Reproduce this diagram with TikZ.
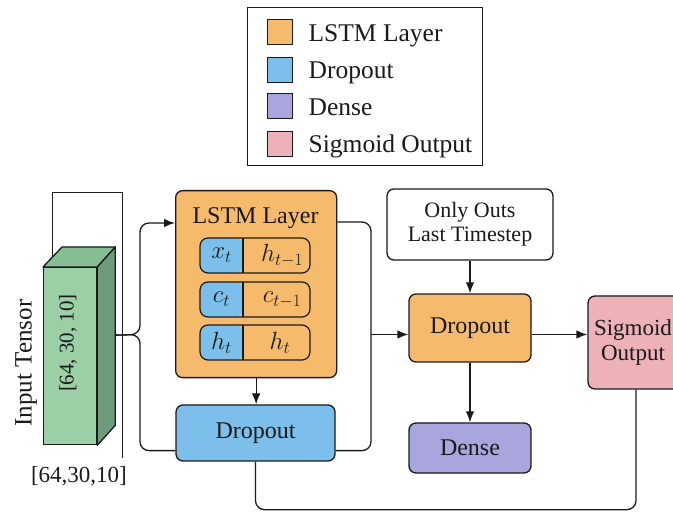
\documentclass[tikz,border=0pt]{standalone}
\usepackage{fontspec}
\setmainfont{Liberation Serif}
\usetikzlibrary{arrows.meta,calc}
\definecolor{lstmor}{HTML}{F6BA6C}
\definecolor{dropbl}{HTML}{7BBFEA}
\definecolor{densepu}{HTML}{A9A6DD}
\definecolor{sigpk}{HTML}{EDB2B8}
\definecolor{tgfront}{HTML}{9BCFA6}
\definecolor{tgside}{HTML}{6E9C7A}
\definecolor{tgtop}{HTML}{86BE93}
\definecolor{ink}{HTML}{1A1A1A}
\begin{document}
\begin{tikzpicture}[x=1pt,y=-1pt,
  line width=1.3pt, draw=ink, text=ink,
  box/.style={draw=ink, rounded corners=7pt, line width=1.3pt, align=center, inner sep=0pt},
  lbl/.style={font=\fontsize{24}{25}\selectfont},
  legtxt/.style={font=\fontsize{25.5}{27}\selectfont, inner sep=0pt, anchor=base west},
  legsq/.style={draw=ink, line width=0.9pt, minimum size=25pt, inner sep=0pt},
  rowbox/.style={draw=ink, rounded corners=8pt, line width=1.2pt, fill=lstmor,
    minimum width=110pt, minimum height=35pt, inner sep=0pt,
    path picture={\fill[dropbl] (path picture bounding box.north west) rectangle ([xshift=43pt]path picture bounding box.south west);
      \draw[ink, line width=1.2pt] ([xshift=43pt]path picture bounding box.north west) -- ([xshift=43pt]path picture bounding box.south west);}},
  mth/.style={font=\fontsize{25}{28}\selectfont, inner sep=0pt},
  arr/.style={-{Latex[length=11pt,width=8.5pt]}},
  conn/.style={line width=1.3pt, rounded corners=9pt},
]
\useasboundingbox (0,0) rectangle (673,513);
\clip (0,0) rectangle (673,513);

% legend
\node[draw=ink, line width=1pt, minimum width=235pt, minimum height=158pt, anchor=north west, inner sep=0pt] (legend) at (247,7) {};
\node[legsq, fill=lstmor] (sq1) at (279.5,32) {};
\node[legsq, fill=dropbl] (sq2) at (279.5,69.5) {};
\node[legsq, fill=densepu] (sq3) at (279.5,106) {};
\node[legsq, fill=sigpk] (sq4) at (279.5,144) {};
\node[legtxt] (lt1) at (308,42) {LSTM Layer};
\node[legtxt] (lt2) at (308,79) {Dropout};
\node[legtxt] (lt3) at (308,116) {Dense};
\node[legtxt] (lt4) at (308,153) {Sigmoid Output};

% tensor decoration lines
\coordinate (fa) at (52,262);
\coordinate (fb) at (52,192);
\coordinate (fc) at (122,192);
\coordinate (fd) at (122,458);
\draw[line width=0.9pt] (fa) -- (fb) -- (fc) -- (fd);

% tensor
\node[draw=ink, fill=tgfront, line width=1.3pt, minimum width=53pt, minimum height=177pt, inner sep=0pt, anchor=north west] (tensor) at (43,267) {};
\draw[fill=tgtop, line join=round] (tensor.north west) -- ($(tensor.north west)+(19,-20)$) -- ($(tensor.north east)+(18,-20)$) -- (tensor.north east) -- cycle;
\draw[fill=tgside, line join=round] (tensor.north east) -- ($(tensor.north east)+(18,-20)$) -- ($(tensor.south east)+(18,-20)$) -- (tensor.south east) -- cycle;
\node[rotate=90, font=\fontsize{21}{24}\selectfont, inner sep=0pt] (tdim) at (68,343) {[64, 30, 10]};
\node[rotate=90, font=\fontsize{25}{27}\selectfont, inner sep=0pt] (inlbl) at (26,363) {Input Tensor};
\node[font=\fontsize{23}{25}\selectfont, inner sep=0pt] (bdim) at (79,476) {[64,30,10]};
\coordinate (tout) at ($(tensor.east)+(18,-21)$);

% LSTM layer
\node[box, fill=lstmor, minimum width=161pt, minimum height=187pt, anchor=north west] (lstm) at (175,190) {};
\node[lbl, inner sep=0pt, anchor=base] (lstmt) at (255.5,224) {LSTM Layer};
\node[rowbox] (r1) at (255,255.5) {};
\node[rowbox] (r2) at (255,299.5) {};
\node[rowbox] (r3) at (255,342.5) {};
\node[mth] (r1a) at (221.5,255.5) {$x_t$};
\node[mth] (r1b) at (282,255.5) {$h_{t-1}$};
\node[mth] (r2a) at (221.5,299.5) {$c_t$};
\node[mth] (r2b) at (282,299.5) {$c_{t-1}$};
\node[mth] (r3a) at (221.5,342.5) {$h_t$};
\node[mth] (r3b) at (280,342.5) {$h_t$};

% Dropout 1
\node[box, lbl, fill=dropbl, minimum width=159pt, minimum height=56pt] (drop1) at (255.5,433) {Dropout};

% right column
\node[box, fill=white, minimum width=166pt, minimum height=71pt, font=\fontsize{22}{24}\selectfont] (only) at (470,224.5) {Only Outs\\Last Timestep};
\node[box, lbl, fill=lstmor, minimum width=122pt, minimum height=68pt] (drop2) at (470,328) {Dropout};
\node[box, lbl, fill=densepu, minimum width=122pt, minimum height=50pt] (dense) at (470,448) {Dense};
\node[box, fill=sigpk, minimum width=96pt, minimum height=93pt] (sig) at (636,342.5) {};
\node[font=\fontsize{23}{25}\selectfont, align=center, inner sep=0pt] (sigt) at (633,342.5) {Sigmoid\\Output};

% connectors
\coordinate (lin) at ($(lstm.north west)+(0,33)$);
\coordinate (din) at ($(drop1.south west)+(0,-11)$);
\coordinate (brace) at (140,334.5);
\draw[conn, arr] (tout) -- (brace) |- (lin);
\draw[conn] (tout) -- (brace) |- (din);

\draw[arr] (lstm.south) -- (lstm.south |- drop1.north);

\coordinate (lout) at ($(lstm.north east)+(0,32)$);
\coordinate (split) at (371,334.5);
\coordinate (dout) at ($(drop1.south east)+(0,-11)$);
\draw[conn] (lout) -| (split) |- (dout);
\draw[arr] (split) -- (split -| drop2.west);

\draw[arr] (only.south) -- (drop2.north);
\draw[arr] (drop2.south) -- (dense.north);
\draw[arr] (drop2.east |- split) -- (sig.west |- split);

\draw[conn] (drop1.south) |- ($(sig.south)+(0,120)$) -- (sig.south);
\end{tikzpicture}
\end{document}
